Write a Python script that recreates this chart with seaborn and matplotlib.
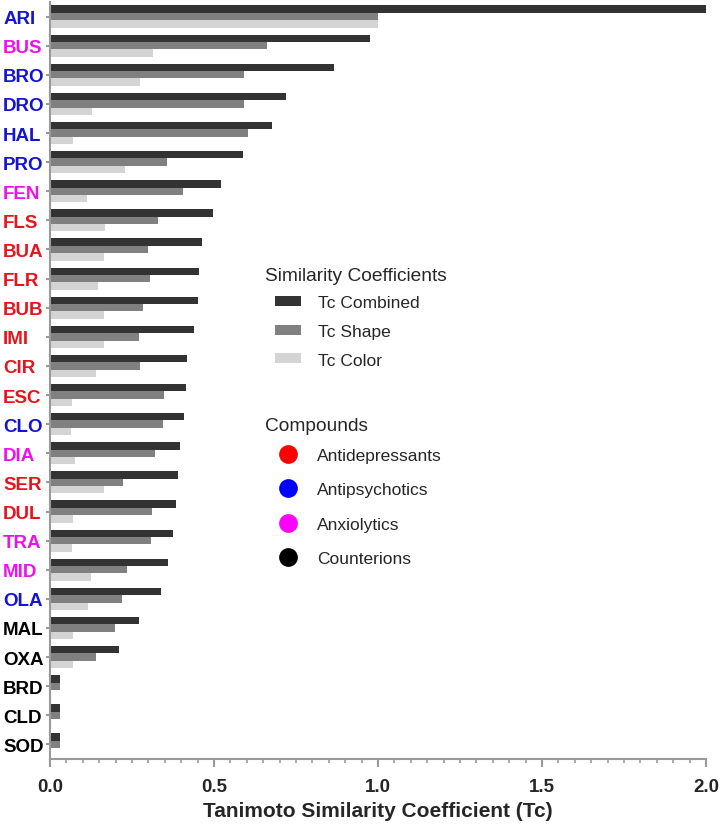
import pandas as pd
import seaborn as sns
import matplotlib.pyplot as plt
from matplotlib.lines import Line2D
from matplotlib.patches import Patch
from matplotlib.ticker import MultipleLocator

# data
compounds = ["ARI", "BUS", "BRO", "DRO", "HAL", "PRO", "FEN", "FLS", "BUA", "FLR",
             "BUB", "IMI", "CIR", "ESC", "CLO", "DIA", "SER", "DUL", "TRA", "MID",
             "OLA", "MAL", "OXA", "BRD", "CLD", "SOD"]
tc_combined = [2.00, 0.977, 0.866, 0.720, 0.678, 0.587, 0.520, 0.498, 0.463, 0.454,
               0.452, 0.439, 0.417, 0.414, 0.410, 0.396, 0.389, 0.383, 0.374, 0.360,
               0.339, 0.271, 0.211, 0.030, 0.030, 0.030]
tc_shape = [1.00, 0.661, 0.590, 0.590, 0.604, 0.356, 0.407, 0.328, 0.299, 0.305,
            0.285, 0.272, 0.273, 0.347, 0.345, 0.320, 0.224, 0.312, 0.307, 0.234,
            0.221, 0.199, 0.139, 0.030, 0.030, 0.030]
tc_color = [1.00, 0.313, 0.273, 0.129, 0.070, 0.230, 0.112, 0.169, 0.166, 0.146,
            0.166, 0.166, 0.141, 0.066, 0.064, 0.076, 0.166, 0.070, 0.066, 0.124,
            0.117, 0.070, 0.070, 0.0, 0.0, 0.0]
groups = ["Antipsychotics", "Anxiolytics", "Antipsychotics", "Antipsychotics", "Antipsychotics",
          "Antipsychotics", "Anxiolytics", "Antidepressants", "Antidepressants", "Antidepressants",
          "Antidepressants", "Antidepressants", "Antidepressants", "Antidepressants", "Antipsychotics",
          "Anxiolytics", "Antidepressants", "Antidepressants", "Anxiolytics", "Anxiolytics",
          "Antipsychotics", "Counterions", "Counterions", "Counterions", "Counterions", "Counterions"]
measures = ["Tc Combined", "Tc Shape", "Tc Color"]

bar_colors = {"Tc Combined": "#333333", "Tc Shape": "#808080", "Tc Color": "#d4d4d4"}
label_colors = {"Antidepressants": "#e8141c", "Antipsychotics": "#1414d2",
                "Anxiolytics": "#ee10ee", "Counterions": "#000000"}
marker_colors = {"Antidepressants": "#ff0000", "Antipsychotics": "#0000ff",
                 "Anxiolytics": "#ff00ff", "Counterions": "#000000"}

df = pd.DataFrame({"compound": compounds, "Tc Combined": tc_combined,
                   "Tc Shape": tc_shape, "Tc Color": tc_color})
long_df = df.melt(id_vars="compound", value_vars=measures, var_name="measure", value_name="Tc")

sns.set_style("ticks")
plt.rcParams["font.family"] = ["Liberation Sans", "DejaVu Sans"]

W, H = 721, 828
fig = plt.figure(figsize=(W / 100, H / 100), dpi=100)
ax = fig.add_axes([50 / W, 68 / H, 656 / W, 757 / H])

sns.barplot(data=long_df, y="compound", x="Tc", hue="measure", hue_order=measures,
            palette=bar_colors, orient="h", width=0.76, linewidth=0, ax=ax, legend=False)

ax.set_xlim(0, 2.0)
ax.set_ylim(25.5, -0.5)
ax.xaxis.set_major_locator(MultipleLocator(0.5))
ax.xaxis.set_minor_locator(MultipleLocator(0.05))
ax.xaxis.set_major_formatter(plt.FormatStrFormatter("%.1f"))

spine_col = "#9a9a9a"
for side in ["top", "right"]:
    ax.spines[side].set_visible(False)
for side in ["left", "bottom"]:
    ax.spines[side].set_color(spine_col)
    ax.spines[side].set_linewidth(1.5)

ax.tick_params(axis="x", which="major", length=6, width=1.5, color=spine_col,
               labelsize=13.5, pad=8)
ax.tick_params(axis="x", which="minor", length=3, width=1.2, color=spine_col)
ax.tick_params(axis="y", length=3, width=1.5, color=spine_col, labelsize=13.5, pad=30.8)
for lab in ax.get_xticklabels():
    lab.set_fontweight("bold")
for lab, grp in zip(ax.get_yticklabels(), groups):
    lab.set_fontweight("bold")
    lab.set_horizontalalignment("left")
    lab.set_color(label_colors[grp])

ax.set_ylabel("")
ax.set_xlabel("Tanimoto Similarity Coefficient (Tc)", fontsize=15, fontweight="bold", labelpad=4)

# legend for the three coefficients
fig.text(265 / W, 1 - 281 / H, "Similarity Coefficients", fontsize=13.8, va="baseline")
h1 = [Patch(facecolor=bar_colors[m], edgecolor="none") for m in measures]
leg1 = ax.legend(h1, measures, loc="upper left",
                 bbox_to_anchor=(275 / W, 1 - 296.5 / H), bbox_transform=fig.transFigure,
                 frameon=False, fontsize=12.5, handlelength=1.5, borderpad=0, borderaxespad=0,
                 handleheight=0.5, handletextpad=0.95, labelspacing=0.78)
ax.add_artist(leg1)

# legend for compound classes
fig.text(265 / W, 1 - 431 / H, "Compounds", fontsize=13.8, va="baseline")
classes = list(marker_colors)
h2 = [Line2D([], [], marker="o", linestyle="none", markersize=13.5,
             markerfacecolor=marker_colors[c], markeredgecolor="none") for c in classes]
ax.legend(h2, classes, loc="upper left",
          bbox_to_anchor=(275 / W, 1 - 448.5 / H), bbox_transform=fig.transFigure,
          frameon=False, fontsize=12.5, handlelength=1.5, borderpad=0, borderaxespad=0,
          handletextpad=0.92, labelspacing=1.12)

fig.savefig("out.png", dpi=100)
